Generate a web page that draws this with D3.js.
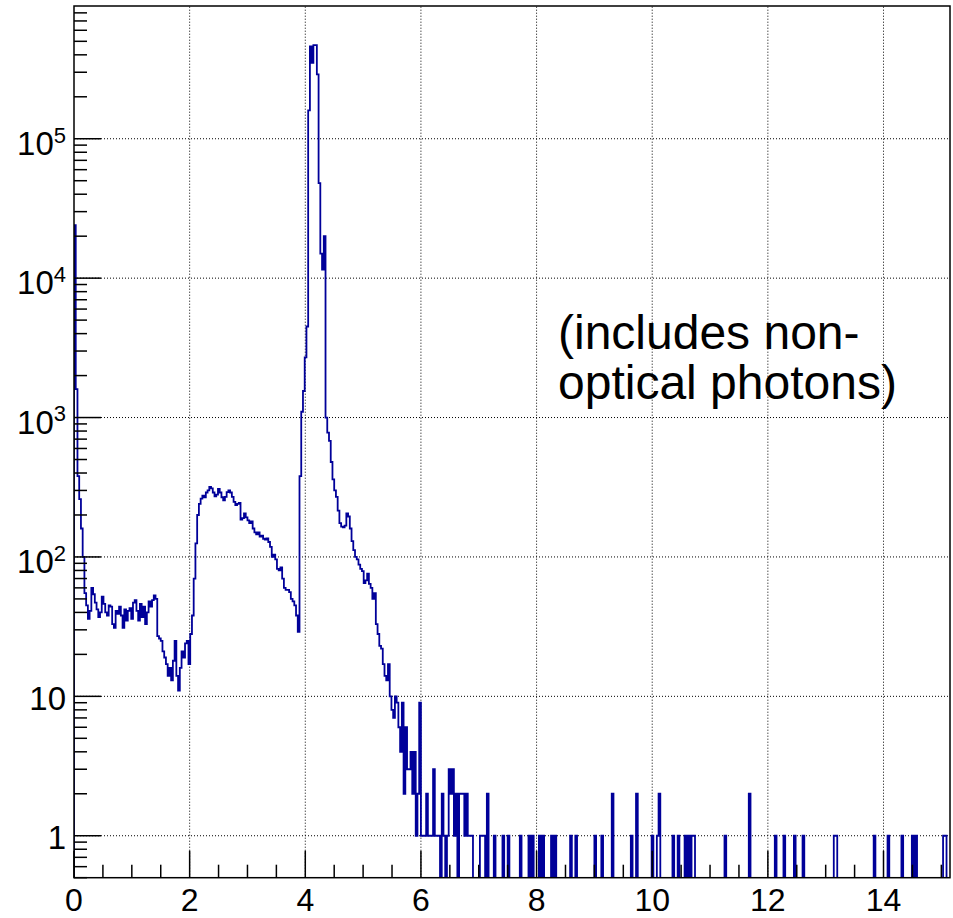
<!DOCTYPE html>
<html><head><meta charset="utf-8">
<script src="https://cdn.jsdelivr.net/npm/d3@7"></script>
<style>body{margin:0;background:#fff} svg{display:block}</style>
</head><body>
<svg id="c" width="953" height="918"></svg>
<script>
// ---------- data ----------
const binWidth = 0.03;
const xMax = 15.15;
const yMin = 0.5, yMax = 8.96e5;
const xTickValues = [0, 2, 4, 6, 8, 10, 12, 14];
const xTickLabels = ["0", "2", "4", "6", "8", "10", "12", "14"];
const yTickValues = [1, 10, 100, 1000, 10000, 100000];
const yTickBase = ["1", "10", "10", "10", "10", "10"];
const yTickExp = ["", "", "2", "3", "4", "5"];
const noteLines = ["(includes non-", "optical photons)"];

// bins 0-68
const countsLow = [24000,1600,380,260,160,100,55,
  45,36,41,60,54,47,42,37,40,52,46,40,38,45,44,33,31,41,39,44,38,31,42,35,41,43,36,47,49,41,35,46,37,44,33,40,48,44,49,53,50,
  27,26,25,21,19,17,14,16,13,18,25,14,11,16,21,19,24,25,17,28,38];
// bins 69-129
const countsMid = [70,125,200,240,262,275,268,290,300,318,310,290,272,280,308,290,268,255,270,292,300,290,270,248,235,240,244,185,190,205,192,183,175,180,160,150,145,150,140,142,135,133,136,128,118,100,104,96,82,80,84,70,60,58,58,56,50,48,45,38,29];
// bins 130-199
const countsPeak = [380,1100,1550,2700,4500,160000,460000,350000,470000,470000,290000,48000,15000,11500,20000,1000,780,680,480,360,300,270,215,175,165,163,168,205,195,160,130,112,100,96,88,82,79,65,68,76,64,60,50,55,33,28,23,22,17,14,13,17,10,8,7,10,9,6,4,9,2,6,3,3,4,2,4,1,2,9];
// bins 200-239
const countsFall = [1,1,1,2,1,1,1,3,1,1,1,0,2,1,0,1,3,2,3,1,2,0,2,2,2,1,2,1,1,1,0,0,0,0,1,1,1,0,2,0];
// sparse tail: bin index and count
const tailBins = [242,247,250,257,262,264,268,270,275,277,286,289,300,304,310,321,324,333,336,337,345,348,352,354,356,357,375,389,404,409,415,420,438,439,461,469,477,483,485,501,502];
const tailCounts = [1,1,1,1,1,1,1,1,1,1,1,1,1,1,2,1,2,1,1,2,1,1,1,1,1,1,1,2,1,1,1,1,1,1,1,1,1,1,1,1,1];

// ---------- layout ----------
const L = 74, R = 950, T = 6, B = 877.7;
const svg = d3.select("#c");
const x = d3.scaleLinear().domain([0, xMax]).range([L, R]);
const y = d3.scaleLog().domain([yMin, yMax]).range([B, T]);

const nBins = Math.round(xMax / binWidth);
const counts = new Array(nBins).fill(0);
[].concat(countsLow, countsMid, countsPeak, countsFall).forEach((v, i) => counts[i] = v);
tailBins.forEach((b, k) => counts[b] = tailCounts[k]);

svg.append("defs").append("clipPath").attr("id", "clip")
  .append("rect").attr("x", L).attr("y", T).attr("width", R - L).attr("height", B - T);

// grid
const grid = svg.append("g").attr("stroke", "#000").attr("stroke-width", 1).attr("stroke-dasharray", "1,2");
xTickValues.filter(v => v > 0).forEach(v => {
  grid.append("line").attr("x1", x(v)).attr("x2", x(v)).attr("y1", B).attr("y2", T);
});
yTickValues.forEach(v => {
  grid.append("line").attr("x1", L).attr("x2", R).attr("y1", y(v)).attr("y2", y(v));
});

// histogram
const yZero = B + 20;
const pts = [[x(0), yZero]];
counts.forEach((v, i) => {
  const yy = v > 0 ? y(v) : yZero;
  pts.push([x(i * binWidth), yy]);
  pts.push([x((i + 1) * binWidth), yy]);
});
pts.push([x(nBins * binWidth), yZero]);
svg.append("path").attr("clip-path", "url(#clip)")
  .attr("d", d3.line()(pts))
  .attr("fill", "none").attr("stroke", "#000099").attr("stroke-width", 1.8)
  .attr("stroke-linejoin", "miter");

// frame
svg.append("rect").attr("x", L).attr("y", T).attr("width", R - L).attr("height", B - T)
  .attr("fill", "none").attr("stroke", "#000").attr("stroke-width", 1.5);

// x ticks
const tk = svg.append("g").attr("stroke", "#000").attr("stroke-width", 1.5);
d3.range(0, xMax + 1e-9, 0.5).forEach(v => {
  const major = Math.abs(v / 2 - Math.round(v / 2)) < 1e-9;
  const len = major ? 27 : 13;
  tk.append("line").attr("x1", x(v)).attr("x2", x(v)).attr("y1", B).attr("y2", B - len);
});
// y ticks
for (let d = -1; d <= 5; d++) {
  for (let m = 1; m <= 9; m++) {
    const v = m * Math.pow(10, d);
    if (v < yMin || v > yMax) continue;
    const len = m === 1 ? 27 : 13;
    tk.append("line").attr("x1", L).attr("x2", L + len).attr("y1", y(v)).attr("y2", y(v));
  }
}

// labels
const font = "'Liberation Sans', Arial, Helvetica, sans-serif";
xTickValues.forEach((v, i) => {
  svg.append("text").attr("x", x(v)).attr("y", 911).attr("text-anchor", "middle")
    .attr("font-family", font).attr("font-size", 32).text(xTickLabels[i]);
});
yTickValues.forEach((v, i) => {
  const t = svg.append("text").attr("x", 66).attr("text-anchor", "end")
    .attr("font-family", font).attr("font-size", 33);
  if (yTickExp[i]) {
    t.attr("y", y(v) + 16.3);
    t.append("tspan").text(yTickBase[i]);
    t.append("tspan").attr("dy", -12.5).attr("font-size", 22).text(yTickExp[i]);
  } else {
    t.attr("y", y(v) + 13.5).text(yTickBase[i]);
  }
});

// note
noteLines.forEach((s, i) => {
  svg.append("text").attr("x", 558).attr("y", 349 + i * 50)
    .attr("font-family", font).attr("font-size", 48).attr("fill", "#000").text(s);
});
</script>
</body></html>
